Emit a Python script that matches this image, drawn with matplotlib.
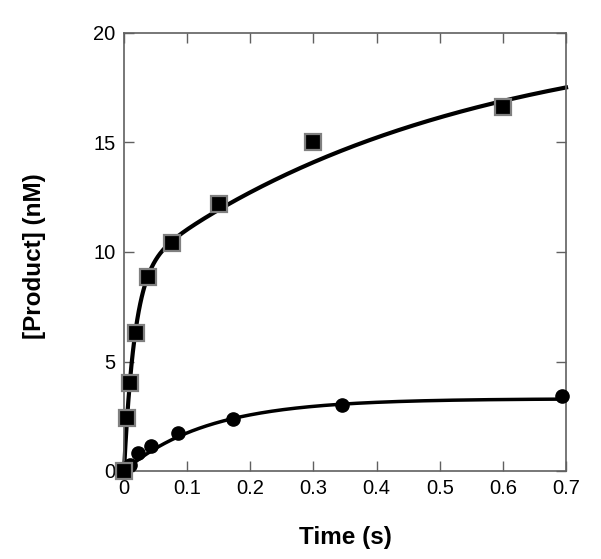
import numpy as np
import matplotlib
matplotlib.use('agg')
import matplotlib.pyplot as plt

plt.rcParams['font.family'] = ['Liberation Sans', 'DejaVu Sans']

# squares: burst data
sq_t = [0.0, 0.005, 0.01, 0.019, 0.038, 0.076, 0.15, 0.30, 0.60]
sq_y = [0.0, 2.4, 4.0, 6.3, 8.85, 10.4, 12.2, 15.0, 16.6]
# circles
ci_t = [0.0, 0.01, 0.022, 0.043, 0.086, 0.173, 0.345, 0.694]
ci_y = [0.0, 0.27, 0.82, 1.14, 1.73, 2.37, 3.0, 3.42]

# fit parameters (double exponential for squares, single for circles)
sq_fit = {'a1': 9.0, 'k1': 60.0, 'a2': 11.3, 'k2': 2.0}
ci_fit = {'a': 3.3, 'k': 7.5}

xticks = [0, 0.1, 0.2, 0.3, 0.4, 0.5, 0.6, 0.7]
xticklabels = ['0', '0.1', '0.2', '0.3', '0.4', '0.5', '0.6', '0.7']
yticks = [0, 5, 10, 15, 20]

fig = plt.figure(figsize=(6.01, 5.59), dpi=100)
ax = fig.add_axes([124/601, 1-471/559, 442/601, 438/559])

t = np.linspace(0, 0.7, 600)
y1 = sq_fit['a1']*(1-np.exp(-sq_fit['k1']*t)) + sq_fit['a2']*(1-np.exp(-sq_fit['k2']*t))
y2 = ci_fit['a']*(1-np.exp(-ci_fit['k']*t))
ax.plot(t, y1, color='black', lw=3, zorder=2, clip_on=False)
ax.plot(t, y2, color='black', lw=2.5, zorder=2, clip_on=False)

ax.plot(ci_t, ci_y, 'o', ms=9.5, mfc='black', mec='black', zorder=3, clip_on=False)
ax.plot(sq_t, sq_y, 's', ms=11, mfc='black', mec='#808080', mew=1.6, zorder=4, clip_on=False)

ax.set_xlim(0, 0.7)
ax.set_ylim(0, 20)
ax.set_xticks(xticks)
ax.set_xticklabels(xticklabels)
ax.set_yticks(yticks)
ax.tick_params(direction='in', length=7, width=1, color='#606060',
               top=True, right=True, labelsize=14.5, pad=6)
for s in ax.spines.values():
    s.set_color('#606060')
    s.set_linewidth(1.2)

ax.set_xlabel('Time (s)', fontsize=17.5, fontweight='bold', labelpad=20)
ax.set_ylabel('[Product] (nM)', fontsize=17.5, fontweight='bold')
ax.yaxis.set_label_coords(-0.176, 0.49)

fig.savefig('out.png', dpi=100)
